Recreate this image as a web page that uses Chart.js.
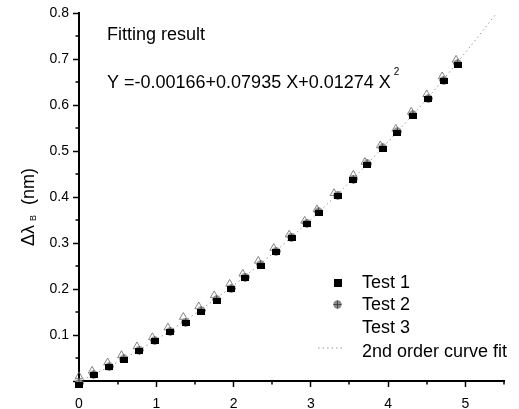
<!DOCTYPE html>
<html>
<head>
<meta charset="utf-8">
<script src="https://cdn.jsdelivr.net/npm/chart.js@4/dist/chart.umd.min.js"></script>
<style>
  html, body { margin: 0; padding: 0; background: #fff; }
  canvas { display: block; }
</style>
</head>
<body>
<canvas id="c" width="519" height="409"></canvas>
<script>
// ---- data ----
const xTest1 = [0, 0.19, 0.39, 0.58, 0.78, 0.98, 1.18, 1.38, 1.58, 1.78, 1.97, 2.15, 2.35, 2.55, 2.75, 2.95, 3.1, 3.35, 3.55, 3.73, 3.93, 4.12, 4.32, 4.52, 4.72, 4.9];
const yTest1 = [-0.008, 0.012, 0.030, 0.046, 0.065, 0.086, 0.106, 0.126, 0.151, 0.175, 0.199, 0.224, 0.251, 0.280, 0.311, 0.341, 0.366, 0.402, 0.437, 0.470, 0.505, 0.540, 0.577, 0.612, 0.652, 0.688];
const xTest2 = xTest1;
const yTest2 = [-0.005, 0.014, 0.031, 0.048, 0.067, 0.088, 0.108, 0.128, 0.153, 0.177, 0.201, 0.226, 0.253, 0.282, 0.313, 0.343, 0.368, 0.404, 0.439, 0.472, 0.507, 0.542, 0.579, 0.614, 0.654, 0.690];
const xTest3 = [0, 0.17, 0.37, 0.55, 0.75, 0.95, 1.15, 1.35, 1.55, 1.75, 1.95, 2.12, 2.32, 2.52, 2.72, 2.92, 3.08, 3.3, 3.55, 3.7, 3.9, 4.1, 4.3, 4.5, 4.7, 4.88];
const yTest3 = [0.010, 0.022, 0.040, 0.056, 0.075, 0.095, 0.116, 0.139, 0.162, 0.186, 0.211, 0.233, 0.261, 0.289, 0.318, 0.348, 0.373, 0.408, 0.448, 0.476, 0.512, 0.548, 0.585, 0.623, 0.662, 0.698];
const xFit = [0, 0.5, 1, 1.5, 2, 2.5, 3, 3.5, 4, 4.5, 5, 5.5];
const yFit = [-0.002, 0.041, 0.090, 0.146, 0.208, 0.276, 0.351, 0.432, 0.520, 0.613, 0.714, 0.820];
const xTicks = [0, 1, 2, 3, 4, 5];
const yTicks = [0, 0.1, 0.2, 0.3, 0.4, 0.5, 0.6, 0.7, 0.8];
const xMinorTicks = [0.5, 1.5, 2.5, 3.5, 4.5, 5.5];
const yMinorTicks = [0.05, 0.15, 0.25, 0.35, 0.45, 0.55, 0.65, 0.75];
const seriesNames = ['Test 1', 'Test 2', 'Test 3', '2nd order curve fit'];
const fitTitle = 'Fitting result';
const fitEquation = 'Y =-0.00166+0.07935 X+0.01274 X';
const yTitleMain = '\u0394\u03bb';
const yTitleSub = 'B';
const yTitleUnit = '(nm)';

const FONT = "'Liberation Sans', Arial, sans-serif";
Chart.defaults.font.family = FONT;
Chart.defaults.color = '#000';

function pts(xs, ys) { return xs.map((x, i) => ({ x: x, y: ys[i] })); }

// marker images
const sq = document.createElement('canvas');
sq.width = 8; sq.height = 6;
(function () { const g = sq.getContext('2d'); g.fillStyle = '#000'; g.fillRect(0, 0, 8, 6); })();
const circ = document.createElement('canvas');
circ.width = 9; circ.height = 9;
(function () {
  const g = circ.getContext('2d');
  g.fillStyle = '#8a8a8a'; g.beginPath(); g.arc(4.5, 4.5, 4.2, 0, Math.PI * 2); g.fill();
  g.strokeStyle = '#444'; g.lineWidth = 1;
  g.beginPath(); g.moveTo(4.5, 0.5); g.lineTo(4.5, 8.5); g.moveTo(0.5, 4.5); g.lineTo(8.5, 4.5); g.stroke();
})();

const extras = {
  id: 'extras',
  afterDraw(chart) {
    const ctx = chart.ctx;
    const xs = chart.scales.x, ys = chart.scales.y, ca = chart.chartArea;
    ctx.save();
    // minor ticks
    ctx.strokeStyle = '#000'; ctx.lineWidth = 1.5;
    ctx.beginPath();
    xMinorTicks.forEach(v => { const p = Math.round(xs.getPixelForValue(v)); ctx.moveTo(p, ca.bottom); ctx.lineTo(p, ca.bottom + 3.5); });
    yMinorTicks.forEach(v => { const p = Math.round(ys.getPixelForValue(v)); ctx.moveTo(ca.left, p); ctx.lineTo(ca.left - 3.5, p); });
    ctx.stroke();

    // fit annotation text
    ctx.fillStyle = '#000';
    ctx.textBaseline = 'alphabetic';
    ctx.textAlign = 'left';
    ctx.font = '18px ' + FONT;
    ctx.fillText(fitTitle, 107, 40);
    ctx.fillText(fitEquation, 107, 88);
    const w = ctx.measureText(fitEquation).width;
    ctx.font = '10px ' + FONT;
    ctx.fillText('2', 107 + w + 3, 75);

    // legend
    const lx = 362;
    const rows = [283, 305, 328, 352];
    ctx.font = '18px ' + FONT;
    ctx.textBaseline = 'middle';
    seriesNames.forEach((n, i) => ctx.fillText(n, lx, rows[i]));
    ctx.fillStyle = '#000';
    ctx.fillRect(334, rows[0] - 4, 8, 8);
    ctx.drawImage(circ, 333, rows[1] - 5);
    ctx.strokeStyle = '#999'; ctx.lineWidth = 1; ctx.setLineDash([1.5, 3]);
    ctx.beginPath(); ctx.moveTo(318, rows[3] - 4); ctx.lineTo(345, rows[3] - 4); ctx.stroke();
    ctx.setLineDash([]);

    // y title (rotated)
    ctx.translate(34, 246);
    ctx.rotate(-Math.PI / 2);
    ctx.textBaseline = 'alphabetic';
    ctx.font = '18px ' + FONT;
    ctx.fillText(yTitleMain, 0, 0);
    const w1 = ctx.measureText(yTitleMain).width;
    ctx.font = '9px ' + FONT;
    ctx.fillText(yTitleSub, w1 + 4, 2);
    ctx.font = '18px ' + FONT;
    ctx.fillText(yTitleUnit, w1 + 20, 0);
    ctx.restore();
  }
};

new Chart(document.getElementById('c'), {
  type: 'scatter',
  data: {
    datasets: [
      { label: seriesNames[0], data: pts(xTest1, yTest1), pointStyle: sq, pointRadius: 4, clip: false },
      { label: seriesNames[1], data: pts(xTest2, yTest2), pointStyle: circ, pointRadius: 4, clip: false },
      { label: seriesNames[2], data: pts(xTest3, yTest3), pointStyle: 'triangle', pointRadius: 4.5,
        backgroundColor: 'rgba(0,0,0,0)', borderColor: '#666', borderWidth: 0.8, clip: false },
      { label: seriesNames[3], data: pts(xFit, yFit), showLine: true, pointRadius: 0,
        borderColor: '#9a9a9a', borderWidth: 1, borderDash: [1.5, 3], cubicInterpolationMode: 'monotone' }
    ]
  },
  options: {
    responsive: false,
    animation: false,
    devicePixelRatio: 1,
    layout: { padding: { top: 13, right: 15, left: 0, bottom: 0 } },
    plugins: { legend: { display: false }, tooltip: { enabled: false } },
    scales: {
      x: {
        type: 'linear', min: 0, max: 5.5,
        afterBuildTicks: s => { s.ticks = xTicks.map(v => ({ value: v })); },
        afterFit: s => { s.height = 28; },
        border: { display: true, color: '#000', width: 2 },
        grid: { drawOnChartArea: false, drawTicks: true, tickLength: 6, tickColor: '#000', tickWidth: 1.5 },
        ticks: { font: { size: 14 }, color: '#000', padding: 9, maxRotation: 0, callback: v => String(v) }
      },
      y: {
        type: 'linear', min: 0, max: 0.8,
        afterBuildTicks: s => { s.ticks = yTicks.map(v => ({ value: v })); },
        afterFit: s => { s.width = 79; },
        border: { display: true, color: '#000', width: 2 },
        grid: { drawOnChartArea: false, drawTicks: true, tickLength: 6, tickColor: '#000', tickWidth: 1.5 },
        ticks: { font: { size: 14 }, color: '#000', padding: 4, callback: v => (v === 0 ? '' : v.toFixed(1)) }
      }
    }
  },
  plugins: [extras]
});
</script>
</body>
</html>
